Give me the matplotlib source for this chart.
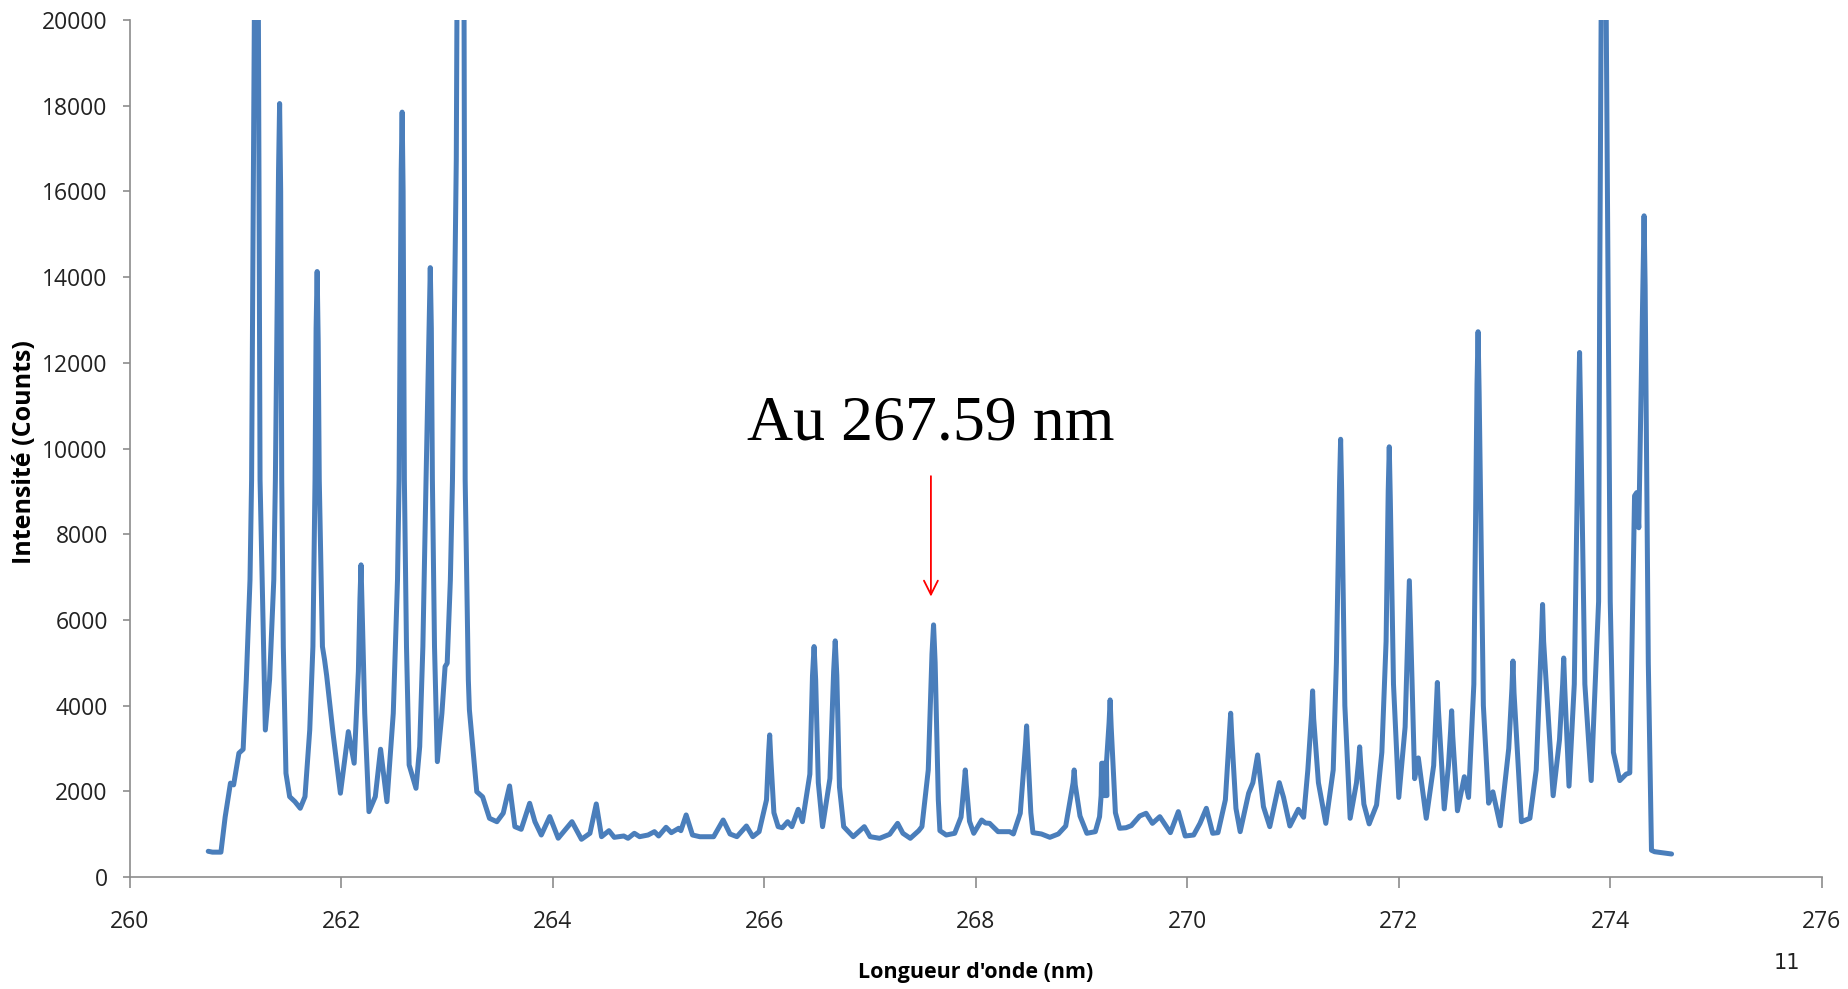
import matplotlib
matplotlib.use("Agg")
import matplotlib.pyplot as plt

# Wavelength (nm) and intensity (counts)
wavelength = [
    260.74, 260.78, 260.86, 260.90, 260.95, 260.98, 261.03, 261.07, 261.10, 261.135,
    261.15, 261.20, 261.23, 261.28, 261.32, 261.36, 261.375, 261.405, 261.415, 261.425,
    261.435, 261.45, 261.475, 261.51, 261.56, 261.61, 261.655, 261.70, 261.73, 261.75,
    261.76, 261.77, 261.78, 261.79, 261.82, 261.84, 261.86, 261.92, 261.99, 262.065,
    262.12, 262.16, 262.175, 262.185, 262.195, 262.22, 262.26, 262.32, 262.37, 262.43,
    262.49, 262.53, 262.545, 262.565, 262.574, 262.583, 262.595, 262.615, 262.64, 262.705,
    262.74, 262.77, 262.80, 262.83, 262.84, 262.85, 262.86, 262.88, 262.907, 262.95,
    262.98, 263.00, 263.03, 263.05, 263.086, 263.11, 263.15, 263.17, 263.20, 263.21,
    263.28, 263.335, 263.40, 263.47, 263.53, 263.59, 263.64, 263.70, 263.78, 263.83,
    263.89, 263.97, 264.05, 264.18, 264.27, 264.35, 264.41, 264.46, 264.53, 264.58,
    264.67, 264.71, 264.77, 264.82, 264.90, 264.96, 265.00, 265.07, 265.12, 265.19,
    265.21, 265.26, 265.32, 265.39, 265.52, 265.61, 265.675, 265.74, 265.83, 265.89,
    265.95, 266.02, 266.04, 266.05, 266.06, 266.09, 266.13, 266.17, 266.22, 266.26,
    266.32, 266.36, 266.43, 266.455, 266.47, 266.485, 266.51, 266.55, 266.62, 266.655,
    266.67, 266.685, 266.71, 266.75, 266.84, 266.945, 267.00, 267.09, 267.185, 267.26,
    267.31, 267.38, 267.46, 267.49, 267.55, 267.585, 267.60, 267.615, 267.645, 267.66,
    267.72, 267.80, 267.86, 267.89, 267.90, 267.91, 267.94, 267.98, 268.055, 268.09,
    268.13, 268.21, 268.32, 268.355, 268.42, 268.47, 268.48, 268.49, 268.52, 268.54,
    268.62, 268.70, 268.78, 268.85, 268.92, 268.93, 268.94, 268.985, 269.05, 269.13,
    269.17, 269.185, 269.19, 269.235, 269.24, 269.215, 269.26, 269.27, 269.28, 269.32,
    269.36, 269.42, 269.47, 269.55, 269.61, 269.67, 269.74, 269.84, 269.915, 269.98,
    270.06, 270.12, 270.18, 270.24, 270.29, 270.36, 270.40, 270.41, 270.42, 270.46,
    270.50, 270.58, 270.62, 270.665, 270.72, 270.78, 270.87, 270.91, 270.97, 271.05,
    271.10, 271.14, 271.175, 271.185, 271.195, 271.24, 271.31, 271.38, 271.41, 271.44,
    271.45, 271.46, 271.49, 271.54, 271.60, 271.62, 271.63, 271.64, 271.67, 271.72,
    271.79, 271.84, 271.88, 271.90, 271.91, 271.92, 271.95, 272.00, 272.06, 272.09,
    272.10, 272.11, 272.15, 272.185, 272.26, 272.33, 272.355, 272.365, 272.375, 272.43,
    272.47, 272.49, 272.50, 272.51, 272.555, 272.62, 272.66, 272.71, 272.74, 272.75,
    272.76, 272.80, 272.85, 272.89, 272.96, 273.04, 273.07, 273.08, 273.09, 273.16,
    273.22, 273.24, 273.30, 273.35, 273.36, 273.37, 273.46, 273.52, 273.55, 273.56,
    273.57, 273.61, 273.66, 273.70, 273.71, 273.72, 273.76, 273.82, 273.89, 273.90,
    273.935, 273.98, 274.00, 274.03, 274.09, 274.15, 274.185, 274.23, 274.25, 274.27,
    274.31, 274.32, 274.33, 274.36, 274.39, 274.42, 274.58,
]
intensity = [
    600, 580, 580, 1400, 2190, 2150, 2890, 2980, 4600, 6935,
    9270, 30000, 9270, 3430, 4600, 6935, 9270, 16500, 18050, 16000,
    9270, 5378, 2421, 1875, 1758, 1604, 1875, 3432, 5378, 9270,
    12800, 14130, 12500, 9270, 5378, 5070, 4700, 3355, 1955, 3393,
    2655, 4800, 6500, 7285, 6300, 3822, 1525, 1875, 2982, 1758,
    3822, 6935, 9270, 16500, 17850, 16000, 9270, 5378, 2615, 2070,
    3043, 5378, 9270, 13000, 14220, 12800, 9270, 5378, 2692, 3822,
    4910, 4990, 6935, 9270, 16740, 30000, 30000, 9270, 4600, 3900,
    1990, 1870, 1370, 1290, 1490, 2125, 1175, 1113, 1720, 1290,
    980, 1410, 905, 1291, 880, 1020, 1705, 941, 1081, 926,
    957, 903, 1020, 941, 980, 1058, 957, 1160, 1035, 1137,
    1081, 1448, 980, 940, 940, 1330, 1004, 941, 1190, 941,
    1058, 1800, 2900, 3316, 2800, 1500, 1175, 1150, 1291, 1175,
    1580, 1291, 2400, 4700, 5378, 4600, 2200, 1175, 2300, 4800,
    5511, 4700, 2100, 1175, 941, 1175, 941, 903, 997, 1252,
    1020, 903, 1081, 1175, 2500, 5200, 5884, 5000, 1800, 1081,
    980, 1020, 1400, 2200, 2498, 2150, 1300, 1020, 1330, 1260,
    1252, 1058, 1058, 1004, 1487, 3100, 3526, 3000, 1500, 1035,
    1004, 926, 1004, 1190, 2200, 2498, 2150, 1424, 1020, 1058,
    1408, 1900, 2655, 2655, 1900, 1900, 3600, 4133, 3500, 1500,
    1137, 1150, 1198, 1424, 1487, 1252, 1408, 1035, 1525, 957,
    980, 1252, 1603, 1020, 1035, 1800, 3400, 3822, 3300, 1600,
    1058, 1955, 2200, 2849, 1642, 1175, 2202, 1860, 1190, 1580,
    1393, 2500, 3800, 4343, 3700, 2200, 1252, 2500, 5000, 9200,
    10216, 9000, 4000, 1370, 2200, 2700, 3037, 2650, 1700, 1240,
    1681, 2912, 5500, 9000, 10040, 8800, 4500, 1856, 3500, 6100,
    6916, 6000, 2295, 2779, 1370, 2600, 4000, 4540, 3900, 1590,
    2600, 3400, 3879, 3300, 1546, 2340, 1856, 4500, 11500, 12725,
    11300, 4000, 1723, 1987, 1196, 3000, 4400, 5040, 4300, 1290,
    1350, 1370, 2500, 5600, 6360, 5500, 1897, 3200, 4500, 5111,
    4400, 2120, 4500, 11000, 12240, 10800, 4500, 2250, 6430, 13470,
    30000, 13470, 6430, 2910, 2250, 2400, 2430, 8896, 8970, 8150,
    14000, 15430, 13800, 5000, 623, 590, 537,
]

x_ticks = [260, 262, 264, 266, 268, 270, 272, 274, 276]
y_ticks = [0, 2000, 4000, 6000, 8000, 10000, 12000, 14000, 16000, 18000, 20000]

annot_text = "Au 267.59 nm"
annot_x = 267.575
x_label = "Longueur d'onde (nm)"
y_label = "Intensité (Counts)"
page_number = "11"

W, H = 1848, 989
fig = plt.figure(figsize=(W / 100, H / 100), dpi=100)
ax = fig.add_axes([130 / W, 1 - 877 / H, (1821.7 - 130) / W, (877 - 20) / H])

ax.plot(wavelength, intensity, color="#4A7EBB", lw=3.6, solid_joinstyle="round",
        solid_capstyle="round")

ax.set_xlim(260, 276)
ax.set_ylim(0, 20000)
ax.set_xticks(x_ticks)
ax.set_yticks(y_ticks)

tick_font = ["Open Sans", "DejaVu Sans"]
ax.set_xticklabels([str(v) for v in x_ticks], family=tick_font, fontsize=16.5, color="#222222")
ax.set_yticklabels([str(v) for v in y_ticks], family=tick_font, fontsize=16.5, color="#222222")

for side in ["top", "right"]:
    ax.spines[side].set_visible(False)
for side in ["left", "bottom"]:
    ax.spines[side].set_color("#8c8c8c")
    ax.spines[side].set_linewidth(1.2)
ax.tick_params(axis="y", direction="out", length=5, width=1.2, color="#8c8c8c", pad=11)
ax.tick_params(axis="x", direction="out", length=8, width=1.2, color="#8c8c8c", pad=16)

ax.set_xlabel(x_label, family=tick_font, fontweight="bold", fontsize=15.5)
ax.xaxis.set_label_coords(0.5, -0.1109)
ax.xaxis.label.set_va("center")
ax.set_ylabel(y_label, family=tick_font, fontweight="bold", fontsize=18)
ax.yaxis.set_label_coords(-0.0621, 0.496)
ax.yaxis.label.set_va("center")

ax.annotate("", xy=(annot_x, 6480), xytext=(annot_x, 9420),
            arrowprops=dict(arrowstyle="->,head_length=1.0,head_width=0.5",
                            color="red", lw=1.3))
ax.text(annot_x, 10550, annot_text, family=["Liberation Serif", "DejaVu Serif"],
        fontsize=46, ha="center", va="center", color="black")

fig.text(1787 / W, 1 - 963 / H, page_number, family="DejaVu Sans", fontsize=15,
         ha="center", va="center", color="#222222")

fig.savefig("out.png", dpi=100)
